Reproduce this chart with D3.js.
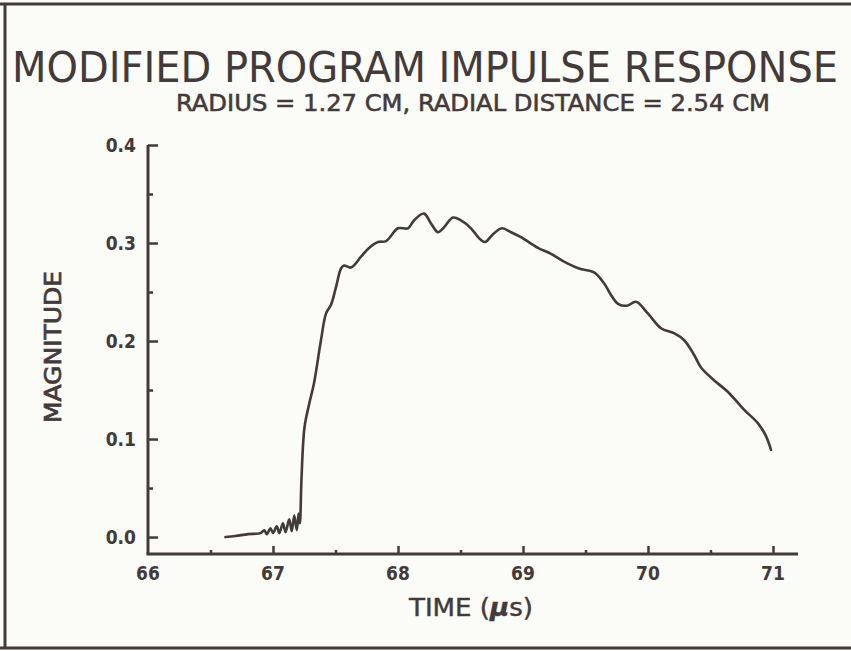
<!DOCTYPE html>
<html>
<head>
<meta charset="utf-8">
<script src="https://cdn.jsdelivr.net/npm/d3@7"></script>
<style>
  html, body { margin: 0; padding: 0; background: #fbfbf7; }
  svg { display: block; }
</style>
</head>
<body>
<svg id="chart" width="851" height="651"></svg>
<script>
// Impulse response samples: time in microseconds, magnitude
const timeUs = [
  66.62, 66.70, 66.80, 66.90, 66.93, 66.95, 66.98, 67.00, 67.03, 67.05,
  67.08, 67.10, 67.13, 67.15, 67.17, 67.19, 67.205, 67.215,
  67.228, 67.252, 67.288, 67.328, 67.384, 67.424, 67.464, 67.504, 67.544, 67.568,
  67.624, 67.704, 67.768, 67.84, 67.904, 68.0, 68.08, 68.128, 68.208, 68.264,
  68.32, 68.368, 68.44, 68.504, 68.584, 68.648, 68.696, 68.76, 68.832, 68.904,
  68.984, 69.12, 69.224, 69.328, 69.448, 69.568, 69.648, 69.704, 69.76, 69.832,
  69.904, 70.0, 70.104, 70.208, 70.288, 70.368, 70.424, 70.528, 70.64, 70.768,
  70.88, 70.944, 70.984
];
const magnitude = [
  0.000, 0.001, 0.003, 0.004, 0.007, 0.003, 0.009, 0.004, 0.011, 0.004,
  0.014, 0.005, 0.018, 0.006, 0.022, 0.007, 0.024, 0.014,
  0.060, 0.112, 0.135, 0.157, 0.201, 0.228, 0.237, 0.255, 0.274, 0.277,
  0.275, 0.286, 0.295, 0.301, 0.302, 0.315, 0.315, 0.323, 0.330, 0.320,
  0.311, 0.316, 0.326, 0.323, 0.315, 0.305, 0.301, 0.309, 0.315, 0.311,
  0.306, 0.295, 0.289, 0.281, 0.274, 0.270, 0.259, 0.247, 0.238, 0.236,
  0.240, 0.228, 0.213, 0.208, 0.201, 0.186, 0.173, 0.160, 0.148, 0.130,
  0.116, 0.103, 0.089
];

const xTickValues = [66, 67, 68, 69, 70, 71];
const xMinorTicks = [66.5, 67.5, 68.5, 69.5, 70.5];
const yTickValues = [0.0, 0.1, 0.2, 0.3, 0.4];
const yMinorTicks = [0.05, 0.15, 0.25, 0.35];

const titleText = "MODIFIED PROGRAM IMPULSE RESPONSE";
const subtitleText = "RADIUS = 1.27 CM, RADIAL DISTANCE = 2.54 CM";
const yLabel = "MAGNITUDE";

const ink = "#433a3b";
const svg = d3.select("#chart");

// outer frame (left, top, bottom edges)
svg.append("path")
  .attr("d", "M 0 4 H 851 M 5 4 V 648 M 0 648 H 851")
  .attr("fill", "none").attr("stroke", ink).attr("stroke-width", 3);

const x = d3.scaleLinear().domain([66, 71.2]).range([148, 798]);
const y = d3.scaleLinear().domain([-0.0173, 0.4]).range([554, 145]);

// title block
svg.append("text")
  .attr("x", 425).attr("y", 82)
  .attr("text-anchor", "middle")
  .attr("font-family", "'Liberation Sans Narrow', 'DejaVu Sans Condensed', sans-serif")
  .attr("font-size", 42)
  .attr("fill", ink)
  .attr("textLength", 826).attr("lengthAdjust", "spacingAndGlyphs")
  .text(titleText);

svg.append("text")
  .attr("x", 473).attr("y", 111)
  .attr("text-anchor", "middle")
  .attr("font-family", "'DejaVu Sans Condensed', 'Liberation Sans Narrow', sans-serif")
  .attr("font-size", 23)
  .attr("fill", ink)
  .attr("stroke", ink).attr("stroke-width", 0.5)
  .attr("textLength", 594).attr("lengthAdjust", "spacingAndGlyphs")
  .text(subtitleText);

// y axis
const yAxis = d3.axisRight(y).tickValues(yTickValues).tickSize(10).tickFormat("");
const gy = svg.append("g").attr("transform", `translate(${x(66)},0)`).call(yAxis);
gy.select(".domain").remove();
gy.selectAll(".tick line").attr("stroke", ink).attr("stroke-width", 2.5);
const yMinor = d3.axisRight(y).tickValues(yMinorTicks).tickSize(5).tickFormat("");
const gym = svg.append("g").attr("transform", `translate(${x(66)},0)`).call(yMinor);
gym.select(".domain").remove();
gym.selectAll(".tick line").attr("stroke", ink).attr("stroke-width", 2.5);

svg.append("line")
  .attr("x1", x(66)).attr("x2", x(66))
  .attr("y1", y(0.4)).attr("y2", y.range()[0])
  .attr("stroke", ink).attr("stroke-width", 3);

svg.selectAll("text.ytick").data(yTickValues).join("text")
  .attr("class", "ytick")
  .attr("x", 136).attr("y", d => y(d))
  .attr("dy", "0.36em")
  .attr("text-anchor", "end")
  .attr("font-family", "'DejaVu Sans Condensed', sans-serif")
  .attr("font-weight", "bold")
  .attr("font-size", 19)
  .attr("fill", ink)
  .text(d => d3.format(".1f")(d));

// x axis
const xAxis = d3.axisTop(x).tickValues(xTickValues.slice(1)).tickSize(8).tickFormat("");
const gx = svg.append("g").attr("transform", `translate(0,${y.range()[0]})`).call(xAxis);
gx.select(".domain").remove();
gx.selectAll(".tick line").attr("stroke", ink).attr("stroke-width", 2.5);
const xMinor = d3.axisTop(x).tickValues(xMinorTicks).tickSize(4).tickFormat("");
const gxm = svg.append("g").attr("transform", `translate(0,${y.range()[0]})`).call(xMinor);
gxm.select(".domain").remove();
gxm.selectAll(".tick line").attr("stroke", ink).attr("stroke-width", 2.5);

svg.append("line")
  .attr("x1", x(66) - 1.5).attr("x2", x.range()[1])
  .attr("y1", y.range()[0]).attr("y2", y.range()[0])
  .attr("stroke", ink).attr("stroke-width", 3);

svg.selectAll("text.xtick").data(xTickValues).join("text")
  .attr("class", "xtick")
  .attr("x", d => x(d)).attr("y", 580)
  .attr("text-anchor", "middle")
  .attr("font-family", "'DejaVu Sans Condensed', sans-serif")
  .attr("font-weight", "bold")
  .attr("font-size", 19)
  .attr("fill", ink)
  .text(d => d);

// axis titles
const xTitle = svg.append("text")
  .attr("x", 471).attr("y", 616)
  .attr("text-anchor", "middle")
  .attr("font-family", "'DejaVu Sans Condensed', sans-serif")
  .attr("font-size", 25)
  .attr("fill", ink)
  .attr("stroke", ink).attr("stroke-width", 0.4)
  .attr("textLength", 124).attr("lengthAdjust", "spacingAndGlyphs");
xTitle.append("tspan").text("TIME (");
xTitle.append("tspan").attr("font-style", "italic").attr("font-weight", "bold").text("\u00b5");
xTitle.append("tspan").text("s)");

svg.append("text")
  .attr("transform", "translate(61,347) rotate(-90)")
  .attr("text-anchor", "middle")
  .attr("font-family", "'DejaVu Sans Condensed', sans-serif")
  .attr("font-size", 23)
  .attr("fill", ink)
  .attr("stroke", ink).attr("stroke-width", 0.7)
  .attr("textLength", 152).attr("lengthAdjust", "spacingAndGlyphs")
  .text(yLabel);

// response curve
const pts = timeUs.map((t, i) => [t, magnitude[i]]);
const line = d3.line()
  .x(d => x(d[0]))
  .y(d => y(d[1]))
  .curve(d3.curveCatmullRom.alpha(0.5));
svg.append("path")
  .datum(pts)
  .attr("d", line)
  .attr("fill", "none")
  .attr("stroke", ink)
  .attr("stroke-width", 2.6)
  .attr("stroke-linejoin", "round")
  .attr("stroke-linecap", "round");
</script>
</body>
</html>
